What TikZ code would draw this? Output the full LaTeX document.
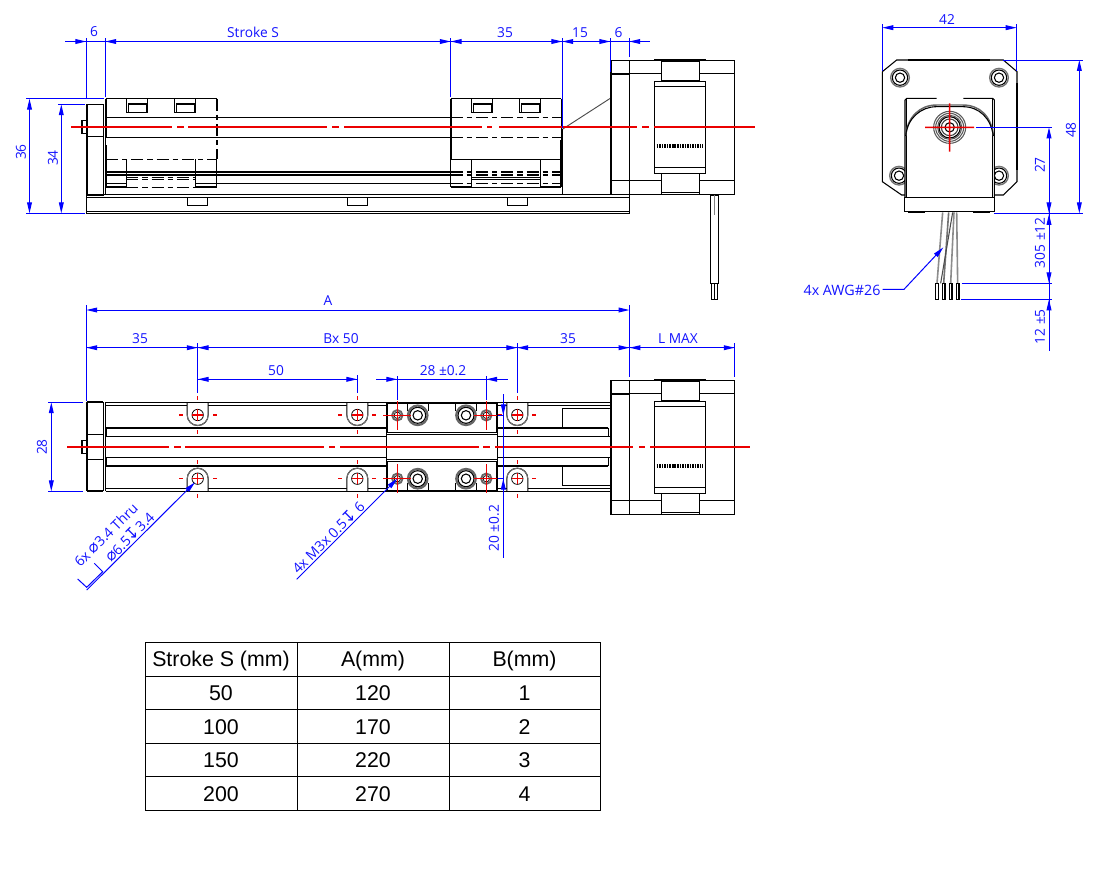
\documentclass[tikz,border=0pt]{standalone}
\usepackage{fontspec}
\setmainfont{Open Sans}
\newfontfamily\tabfont{Liberation Sans}
\newfontfamily\symfont{DejaVu Sans}
\usetikzlibrary{arrows.meta}
\definecolor{dimblue}{RGB}{0,0,255}
\definecolor{dimtext}{RGB}{20,20,255}
\definecolor{clred}{RGB}{235,0,0}
\tikzset{
  ln/.style={black,line width=0.8pt},
  thk/.style={black,line width=1.6pt},
  thn/.style={black,line width=0.55pt},
  dsh/.style={black,line width=0.8pt,dash pattern=on 9pt off 3pt on 4pt off 3pt},
  dshk/.style={black,line width=1.6pt,dash pattern=on 9pt off 3pt on 4pt off 3pt},
  dshn/.style={black,line width=0.6pt,dash pattern=on 9pt off 3pt on 4pt off 3pt},
  rdf/.style={fill=clred,draw=none},
  bl/.style={dimblue,line width=0.75pt},
  tip/.style={dimblue,line width=0.75pt,-{Triangle[length=8.2pt,width=3.6pt]}},
  lbl/.style={text=dimtext,font=\fontsize{10.3}{12}\selectfont,inner sep=0pt},
  lead/.style={lbl,rotate=45,font=\fontsize{10.5}{12}\selectfont},
  tabcell/.style={font=\tabfont\fontsize{16}{18}\selectfont,text=black,inner sep=0pt},
  tabline/.style={black,line width=0.65pt}
}
\newcommand{\sym}[1]{{\symfont\fontsize{12}{12}\selectfont #1}}
\newcommand{\clseg}[3]{\path[rdf] (#1,#3-0.75) rectangle (#2,#3+0.75);}
\newcommand{\clvert}[3]{\path[rdf] (#1-0.7,#2) rectangle (#1+0.7,#3);}
\newcommand{\motorview}{%
  \draw[thk] (611,60.3) -- (611,194.3);
  \draw[ln] (611,60.3) rectangle (734.5,194.3);
  \draw[ln] (629.3,60.3) -- (629.3,194.3);
  \draw[ln] (611,74) -- (629.3,74);
  \draw[ln] (611,180.3) -- (661.3,180.3) (699.3,180.3) -- (734.5,180.3);
  \draw[ln] (629.3,73.3) -- (661.3,73.3) (699.3,73.3) -- (734.5,73.3);
  \draw[ln,fill=white] (661.3,59.6) rectangle (699.3,81);
  \draw[ln] (661.3,61.6) -- (699.3,61.6);
  \draw[thk] (654.3,59.6) -- (706,59.6);
  \draw[ln,fill=white] (661.3,173.3) rectangle (699.3,194.3);
  \draw[ln] (661.3,192.3) -- (699.3,192.3);
  \draw[ln,fill=white] (654.3,81.3) rectangle (705.7,173.3);
  \draw[ln] (654.3,86.3) -- (705.7,86.3) (654.3,167.3) -- (705.7,167.3);
  \draw[black,line width=3pt,dash pattern=on 1.2pt off 0.7pt] (656.7,146) -- (703.3,146);
}
\newcommand{\mounthole}[3]{% x y dir(+1 round at bottom)
  \draw[ln,fill=white] (#1-10.5,#2-13*#3) -- (#1-10.5,#2) arc[start angle=180,delta angle=-#3*180,x radius=10.5,y radius=10.5]
     -- (#1+10.5,#2-13*#3);
  \draw[black!55,line width=0.7pt] (#1-10.5,#2) arc[start angle=180,delta angle=-#3*180,x radius=10.5,y radius=10.5];
  \draw[thn] (#1,#2) circle (5.7);
  \clseg{#1-5.7}{#1+5.7}{#2}
  \clvert{#1}{#2-5.7}{#2+5.7}
  \clseg{#1-19}{#1-15}{#2}
  \clseg{#1+15}{#1+19}{#2}
  \clvert{#1}{#2-19}{#2-15}
  \clvert{#1}{#2+15}{#2+19}
}
\begin{document}
\begin{tikzpicture}[x=0.75pt,y=-0.75pt]
\useasboundingbox (0,0) rectangle (1115,876);
\fill[white] (0,0) rectangle (1115,876);

%%% ---------- TOP VIEW ----------
\draw[ln] (86.5,194.3) rectangle (629.3,213.3);
\draw[ln] (86.5,197.3) -- (629.3,197.3) (86.5,211.4) -- (629.3,211.4);
\foreach \fx in {187.3,347.3,507.3}
  \draw[ln,fill=white] (\fx,197.3) rectangle (\fx+20.6,205.6);
\draw[thk] (86.8,104.3) -- (86.8,195.5);
\draw[ln] (86.5,104.3) rectangle (103.3,195.7);
\draw[ln] (86.5,136.7) -- (103.3,136.7);
\draw[ln] (82,120.7) rectangle (86.3,133.3);
\draw[ln] (105.5,98.7) -- (105.5,195);
\draw[ln] (106,117.3) -- (450.7,117.3) (106,137.3) -- (450.7,137.3);
\draw[dsh] (450.7,117.3) -- (561.3,117.3) (450.7,137.3) -- (561.3,137.3);
\draw[thk] (106,171.7) -- (450.7,171.7);
\draw[ln] (106,175) -- (450.7,175);
\draw[ln] (106,183.3) -- (126.3,183.3) (195.7,183.3) -- (450.7,183.3);
\draw[ln] (106,194.3) -- (611,194.3);
% carriage 1
\draw[ln] (106,98.7) -- (217,98.7);
\draw[thk] (106.3,99) -- (106.3,137) (106.3,145) -- (106.3,187.5);
\draw[dsh] (217,98.7) -- (217,159.3);
\draw[dsh] (106,159.3) -- (217,159.3);
\draw[thk] (106,187.3) -- (126.3,187.3) (195.7,187.3) -- (216.7,187.3);
\draw[ln] (126.3,159.3) -- (126.3,187.3) (195.7,159.3) -- (195.7,187.3) (216.7,159.3) -- (216.7,187.3);
\draw[dshn] (126.3,177.5) -- (195.7,177.5) (126.3,179.8) -- (195.7,179.8) (126.3,187.3) -- (195.7,187.3);
\foreach \nx in {126.3,174.3}{
  \draw[ln] (\nx,98.7) -- (\nx,112.3) -- (\nx+21,112.3) -- (\nx+21,98.7);
  \draw[ln] (\nx+2,112.3) -- (\nx+2,103.6) -- (\nx+20,103.6) -- (\nx+20,112.3);
  \draw[thk] (\nx+2,103.6) -- (\nx+20,103.6);
}
% carriage 2
\draw[ln] (450.7,98.7) -- (561.3,98.7);
\draw[thk] (451,98.7) -- (451,159.3) (561.3,140) -- (561.3,187.3);
\draw[ln] (561.3,98.7) -- (561.3,140);
\draw[ln] (450.7,159.3) -- (561.3,159.3);
\draw[ln] (450.7,159.3) -- (450.7,187.3) (471.7,159.3) -- (471.7,187.3) (540.3,159.3) -- (540.3,187.3);
\draw[thk] (450.7,187.3) -- (471.7,187.3) (540.3,187.3) -- (561.3,187.3);
\draw[dshk] (450.7,171.7) -- (561.3,171.7);
\draw[dsh] (450.7,175) -- (561.3,175) (450.7,183.3) -- (561.3,183.3);
\draw[ln] (471.7,177.5) -- (540.3,177.5) (471.7,179.8) -- (540.3,179.8);
\draw[ln] (471.7,187.3) -- (540.3,187.3);
\foreach \nx in {471.7,519.3}{
  \draw[ln] (\nx,98.7) -- (\nx,112.3) -- (\nx+21,112.3) -- (\nx+21,98.7);
  \draw[ln] (\nx+2,112.3) -- (\nx+2,103.6) -- (\nx+20,103.6) -- (\nx+20,112.3);
  \draw[thk] (\nx+2,103.6) -- (\nx+20,103.6);
}
\draw[black!70,line width=0.7pt] (562.3,129.3) -- (610.3,98.3);
\draw[ln] (562.3,129.3) -- (562.3,194.3);
\motorview
\draw[ln] (629.3,194.3) -- (629.3,213.3);
% cable
\draw[ln] (710.7,195) rectangle (718.3,283.3);
\draw[black!50,line width=0.6pt] (714.5,195) -- (714.5,215);
\draw[ln] (711.7,283.3) rectangle (717.7,299.3);
\draw[ln] (714.7,283.3) -- (714.7,299.3);
% centre line
\clseg{71}{172}{127.1}
\clseg{177}{184}{127.1}
\clseg{188}{327}{127.1}
\clseg{332}{339}{127.1}
\clseg{344}{481.7}{127.1}
\clseg{487}{492}{127.1}
\clseg{499.3}{636.7}{127.1}
\clseg{642}{649}{127.1}
\clseg{654.3}{755}{127.1}
% dimensions top
\draw[bl] (86.3,38) -- (86.3,99) (105.3,38) -- (105.3,97);
\draw[bl] (450.7,38) -- (450.7,96.7) (562.3,38) -- (562.3,128);
\draw[bl] (610.3,38) -- (610.3,72) (629.3,38) -- (629.3,56.7);
\draw[bl] (65,41.5) -- (650,41.5);
\draw[tip] (75,41.5) -- (86.3,41.5);
\draw[tip] (116.6,41.5) -- (105.3,41.5);
\draw[tip] (439.4,41.5) -- (450.7,41.5);
\draw[tip] (462,41.5) -- (450.7,41.5);
\draw[tip] (551,41.5) -- (562.3,41.5);
\draw[tip] (573.6,41.5) -- (562.3,41.5);
\draw[tip] (599,41.5) -- (610.3,41.5);
\draw[tip] (640.6,41.5) -- (629.3,41.5);
\node[lbl] (t6a) at (94,32) {6};
\node[lbl] (tS) at (253,32) {Stroke S};
\node[lbl] (t35) at (505,33) {35};
\node[lbl] (t15) at (580,33) {15};
\node[lbl] (t6b) at (618.5,33) {6};
\draw[bl] (26,98.7) -- (104,98.7) (58.3,104.3) -- (85,104.3) (26,213.3) -- (85,213.3);
\draw[tip] (29.5,120) -- (29.5,98.7);
\draw[tip] (29.5,190) -- (29.5,213.3);
\draw[tip] (61.3,125) -- (61.3,104.3);
\draw[tip] (61.3,190) -- (61.3,213.3);
\draw[bl] (29.5,115) -- (29.5,195) (61.3,120) -- (61.3,195);
\node[lbl,rotate=90] (t36) at (21,152) {36};
\node[lbl,rotate=90] (t34) at (53,158) {34};

%%% ---------- FRONT VIEW ----------
\draw[thk] (86.8,402.3) -- (86.8,491.3) (86.8,402.3) -- (103.3,402.3) (86.8,491.3) -- (103.3,491.3);
\draw[ln] (103.3,402.3) -- (103.3,491.3) (105.7,402.3) -- (105.7,491.3);
\draw[ln] (86.7,434.3) -- (103.3,434.3) (86.7,459.3) -- (103.3,459.3);
\draw[ln] (82,440.7) rectangle (86.3,453.3);
\draw[ln] (105.7,405.3) -- (611,405.3) (105.7,488.5) -- (611,488.5);
\draw[thk] (106,427.7) -- (386.7,427.7) (106,465.8) -- (386.7,465.8);
\draw[thk] (106,427.7) -- (106,436.3) (106,457.3) -- (106,465.8);
\draw[ln] (106,436.3) -- (386.7,436.3) (106,457.3) -- (386.7,457.3);
\draw[thk] (497.7,427.7) -- (608.3,427.7) (497.7,465.8) -- (608.3,465.8);
\draw[ln] (497.7,436.3) -- (611,436.3) (497.7,457.3) -- (611,457.3);
\draw[ln] (608.3,427.7) -- (608.3,436.3) (608.3,457.3) -- (608.3,465.8);
\draw[ln] (610,408.3) -- (562.3,408.3) -- (562.3,427.7);
\draw[ln] (610,485.7) -- (562.3,485.7) -- (562.3,465.8);
\foreach \hx in {197.7,357.3,517.3}{
  \mounthole{\hx}{415}{1}
  \mounthole{\hx}{478.7}{-1}
}
\draw[ln] (105.7,402.3) -- (611,402.3) (105.7,491.3) -- (611,491.3);
% carriage
\fill[white] (386.7,402.5) rectangle (497.7,490.8);
\draw[ln] (386.7,434.3) -- (497.7,434.3) (386.7,459.3) -- (497.7,459.3);
\draw[ln] (386.7,432.3) -- (497.7,432.3) (386.7,461.3) -- (497.7,461.3);
\draw[thk] (387,432.3) -- (387,402.7) -- (497.4,402.7) -- (497.4,432.3);
\draw[thk] (387,461.3) -- (387,490.7) -- (497.4,490.7) -- (497.4,461.3);
\draw[ln] (386.7,432.3) -- (386.7,461.3) (497.7,432.3) -- (497.7,461.3);
\foreach \py/\sgn in {402.7/1,490.7/-1}{
  \draw[ln] (407.7,\py) -- (407.7,\py+8*\sgn) (428.3,\py) -- (428.3,\py+8*\sgn);
  \draw[ln] (455.7,\py) -- (455.7,\py+8*\sgn) (476.7,\py) -- (476.7,\py+8*\sgn);
}
\foreach \cy in {415.3,478.7}{
  \foreach \cx in {417.7,466}{
    \draw[black!60,line width=1.6pt,fill=white] (\cx,\cy) circle (9.8);
    \draw[ln] (\cx,\cy) circle (8);
    \draw[ln] (\cx,\cy) circle (4.7);
  }
  \foreach \cx in {397.3,486.3}{
    \draw[black!60,line width=1.4pt,fill=white] (\cx,\cy) circle (5.2);
    \draw[thn] (\cx,\cy) circle (3.2);
    \clvert{\cx}{\cy-14.5}{\cy+14.5}
  }
  \clseg{383}{410.7}{\cy}
  \clseg{473.5}{497}{\cy}
}
\begin{scope}[shift={(0,320)}]
\motorview
\end{scope}
\clseg{67}{169}{447.1}
\clseg{174}{180.7}{447.1}
\clseg{185}{324}{447.1}
\clseg{329}{335}{447.1}
\clseg{340}{479}{447.1}
\clseg{483}{490}{447.1}
\clseg{495}{633}{447.1}
\clseg{639}{645}{447.1}
\clseg{650}{750}{447.1}
% dims
\draw[bl] (86.3,305) -- (86.3,401) (629.5,305) -- (629.5,376.7);
\draw[bl] (197.7,343) -- (197.7,393) (357.3,375) -- (357.3,393) (517.3,343) -- (517.3,393) (734.7,343) -- (734.7,376.7);
\draw[bl] (397.3,376) -- (397.3,400) (486.3,376) -- (486.3,400);
\draw[tip] (110,310) -- (86.3,310);
\draw[tip] (600,310) -- (629.5,310);
\draw[bl] (105,310) -- (610,310);
\node[lbl] (dA) at (328,301) {A};
\draw[bl] (86.3,347.7) -- (734.7,347.7);
\draw[tip] (100,347.7) -- (86.3,347.7);
\draw[tip] (185,347.7) -- (197.7,347.7);
\draw[tip] (210,347.7) -- (197.7,347.7);
\draw[tip] (506,347.7) -- (517.3,347.7);
\draw[tip] (528.6,347.7) -- (517.3,347.7);
\draw[tip] (618,347.7) -- (629.5,347.7);
\draw[tip] (641,347.7) -- (629.5,347.7);
\draw[tip] (723,347.7) -- (734.7,347.7);
\node[lbl] (d35a) at (140,339) {35};
\node[lbl] (dB) at (341,339) {Bx 50};
\node[lbl] (d35b) at (568,339) {35};
\node[lbl] (dL) at (678,339) {L MAX};
\draw[bl] (197.7,379.3) -- (357.3,379.3);
\draw[tip] (209,379.3) -- (197.7,379.3);
\draw[tip] (346,379.3) -- (357.3,379.3);
\node[lbl] (d50) at (276,371) {50};
\draw[bl] (376,379.3) -- (508,379.3);
\draw[tip] (386,379.3) -- (397.3,379.3);
\draw[tip] (497.6,379.3) -- (486.3,379.3);
\node[lbl] (d28t) at (443,371) {28 ±0.2};
\draw[bl] (48.3,402.3) -- (83.3,402.3) (48.3,491.3) -- (83.3,491.3);
\draw[bl] (51.3,415) -- (51.3,480);
\draw[tip] (51.3,420) -- (51.3,402.3);
\draw[tip] (51.3,475) -- (51.3,491.3);
\node[lbl,rotate=90] (d28) at (42,447) {28};
\draw[bl] (503.3,394) -- (503.3,557.7);
\draw[bl] (497.7,415.3) -- (503.3,415.3) (497.7,478.7) -- (503.3,478.7);
\draw[tip] (503.3,403.5) -- (503.3,415.3);
\draw[tip] (503.3,490) -- (503.3,478.7);
\node[lbl,rotate=90] (d20) at (494,528.3) {20 ±0.2};
% leaders
\draw[tip] (86.7,590) -- (195,482.3);
\draw[bl] (77.7,579) -- (86.7,587.3) -- (102.7,571.7) -- (94.3,563.3);
\node[lead] (ld1) at (106,535) {6x \sym{⌀}3.4 Thru};
\node[lead] (ld2) at (129.3,536.7) {\sym{⌀}6.5\sym{↧}3.4};
\draw[tip] (296.7,579.3) -- (397.3,478.7);
\node[lead] (ld3) at (328,537) {4x M3x 0.5\sym{↧} 6};

%%% ---------- SIDE VIEW ----------
\begin{scope}[shift={(790,10)},x=0.25pt,y=-0.25pt]
\draw[ln] (277,185) -- (320,150) -- (640,150) -- (681,185) -- (681,515) -- (640,555) -- (612,555);
\draw[ln] (345,555) -- (335,555) -- (277,515) -- (277,185);
\draw[thk] (355,150) -- (600,150) (681,220) -- (681,480);
\foreach \hx/\hy in {330/203,627/203,327/497,627/497}{
  \draw[black!55,line width=1pt,fill=white] (\hx,\hy) circle (28);
  \draw[ln] (\hx,\hy) circle (23);
  \draw[ln] (\hx,\hy) circle (14);
}
\fill[white] (345,265) rectangle (613,605);
\draw[ln] (345,562) -- (345,270) -- (350,265) -- (440,265) (520,265) -- (608,265) -- (613,270) -- (613,562);
\draw[ln] (350,265) -- (350,562) (608,265) -- (608,562);
\draw[black!60,line width=1.1pt] (347,378) .. controls (352,320) and (390,285) .. (440,285) -- (518,285) .. controls (570,285) and (605,320) .. (610,378);
\draw[ln] (347,378) .. controls (352,325) and (392,290) .. (440,290) -- (518,290) .. controls (568,290) and (603,325) .. (610,378);
\draw[ln,fill=white] (343,562) rectangle (613,605);
\draw[thk] (355,607) -- (405,607) (550,607) -- (600,607);
\foreach \r in {48,42,36}
  \draw[black!65,line width=0.8pt] (479,352) circle (\r);
\draw[ln] (479,352) circle (32);
\draw[black!75,line width=0.8pt] (479,352) circle (25);
\draw[ln] (479,352) circle (14);
\path[rdf] (405,349.8) rectangle (552,354.2) (476.8,280) rectangle (481.2,425);
\draw[black!45,line width=1.2pt] (458,607) -- (441,820);
\draw[black!55,line width=1.2pt] (476,607) -- (461,820);
\draw[black!45,line width=1.2pt] (492,607) -- (482,820);
\draw[black!45,line width=1.2pt] (500,607) -- (503,820);
\draw[black!70,line width=0.8pt] (488,607) -- (452,820);
\foreach \wx in {437,457,478,499}
  \draw[ln] (\wx,820) rectangle (\wx+8,868);
\draw[bl] (277,42) -- (277,183) (680,42) -- (680,183);
\draw[bl] (300,53) -- (660,53);
\draw[tip] (315,53) -- (277,53);
\draw[tip] (642,53) -- (680,53);
\node[lbl] (s42) at (471,28) {42};
\draw[bl] (640,150) -- (878,150) (612,610) -- (878,610);
\draw[bl] (868,170) -- (868,590);
\draw[tip] (868,190) -- (868,150);
\draw[tip] (868,570) -- (868,610);
\node[lbl,rotate=90] (s48) at (843,360) {48};
\draw[bl] (558,352) -- (787,352) (515,820) -- (787,820) (513,868) -- (787,868);
\draw[bl] (777,370) -- (777,1022);
\draw[tip] (777,395) -- (777,352);
\draw[tip] (777,565) -- (777,610);
\draw[tip] (777,655) -- (777,612);
\draw[tip] (777,778) -- (777,820);
\draw[tip] (777,910) -- (777,868);
\node[lbl,rotate=90] (s27) at (750,465) {27};
\node[lbl,rotate=90] (s305) at (750,698) {305 ±12};
\node[lbl,rotate=90] (s12) at (750,950) {12 ±5};
\node[lbl,anchor=east,font=\fontsize{10.7}{12}\selectfont] (awg) at (272,840) {4x AWG\#26};
\draw[tip] (278,838) -- (342,838) -- (460,712);
\end{scope}

%%% ---------- TABLE ----------
\draw[tabline] (145,642) rectangle (600,810);
\foreach \ry in {676,709,743,776} \draw[tabline] (145,\ry) -- (600,\ry);
\foreach \cx in {297,449} \draw[tabline] (\cx,642) -- (\cx,810);
\node[tabcell] (h1) at (221,660.5) {Stroke S (mm)};
\node[tabcell] (h2) at (373,660.5) {A(mm)};
\node[tabcell] (h3) at (524.5,660.5) {B(mm)};
\node[tabcell] (c11) at (221,693.5) {50};
\node[tabcell] (c12) at (373,693.5) {120};
\node[tabcell] (c13) at (524.5,693.5) {1};
\node[tabcell] (c21) at (221,727.5) {100};
\node[tabcell] (c22) at (373,727.5) {170};
\node[tabcell] (c23) at (524.5,727.5) {2};
\node[tabcell] (c31) at (221,760.5) {150};
\node[tabcell] (c32) at (373,760.5) {220};
\node[tabcell] (c33) at (524.5,760.5) {3};
\node[tabcell] (c41) at (221,794.5) {200};
\node[tabcell] (c42) at (373,794.5) {270};
\node[tabcell] (c43) at (524.5,794.5) {4};
\end{tikzpicture}
\end{document}
